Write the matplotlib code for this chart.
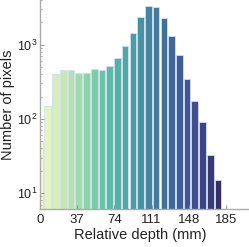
import numpy as np
import matplotlib
matplotlib.use("Agg")
import matplotlib.pyplot as plt
from matplotlib.colors import LinearSegmentedColormap

plt.rcParams['font.family'] = ['Liberation Sans', 'DejaVu Sans']

# histogram of relative depth (bin centres in mm) and pixel counts
bin_width = 7.7
bin_centers = np.arange(24) * bin_width
counts = [50, 150, 405, 460, 460, 420, 420, 475, 460, 510, 660, 950,
          1450, 2370, 3300, 3230, 2300, 1300, 720, 340, 174, 92, 33, 15]
xticks = [0, 37, 74, 111, 148, 185]

# colormap close to cmocean "deep"
deep = LinearSegmentedColormap.from_list(
    "deep_like",
    ["#f6fac8", "#c8e9b2", "#8fd6a8", "#5fbfa8", "#4aa3a5",
     "#45809e", "#3f6599", "#414d90", "#33306a"])
colors = [deep(i / (len(counts) - 1)) for i in range(len(counts))]

fig = plt.figure(figsize=(2.49, 2.47), dpi=100)
ax = fig.add_axes([0.161, 0.154, 0.835, 0.846])

ax.bar(bin_centers, counts, width=bin_width * 0.86, color=colors,
       edgecolor="#d4deee", linewidth=0.6)

ax.set_yscale("log")
ax.set_xlim(0, 207)
ax.set_ylim(6.1, 4000)
ax.set_xticks(xticks)
ax.set_xticklabels([str(t) for t in xticks])

for s in ["top", "right"]:
    ax.spines[s].set_visible(False)
for s in ["left", "bottom"]:
    ax.spines[s].set_color("#aaaaaa")
    ax.spines[s].set_linewidth(1.0)

ax.tick_params(axis="both", which="both", direction="in", colors="#888888",
               labelcolor="#222222", labelsize=9)
ax.tick_params(axis="both", which="major", length=3, width=0.6)
ax.tick_params(axis="y", which="minor", length=1.5, width=0.5)
ax.tick_params(axis="y", which="major", pad=2)
ax.tick_params(axis="x", which="major", labelsize=9.5)

ax.set_xlabel("Relative depth (mm)", fontsize=10.5, color="#222222")
ax.set_ylabel("Number of pixels", fontsize=10.5, color="#222222")
ax.xaxis.set_label_coords(0.48, -0.093)
ax.yaxis.set_label_coords(-0.122, 0.5)

fig.savefig("out.png", dpi=100)
